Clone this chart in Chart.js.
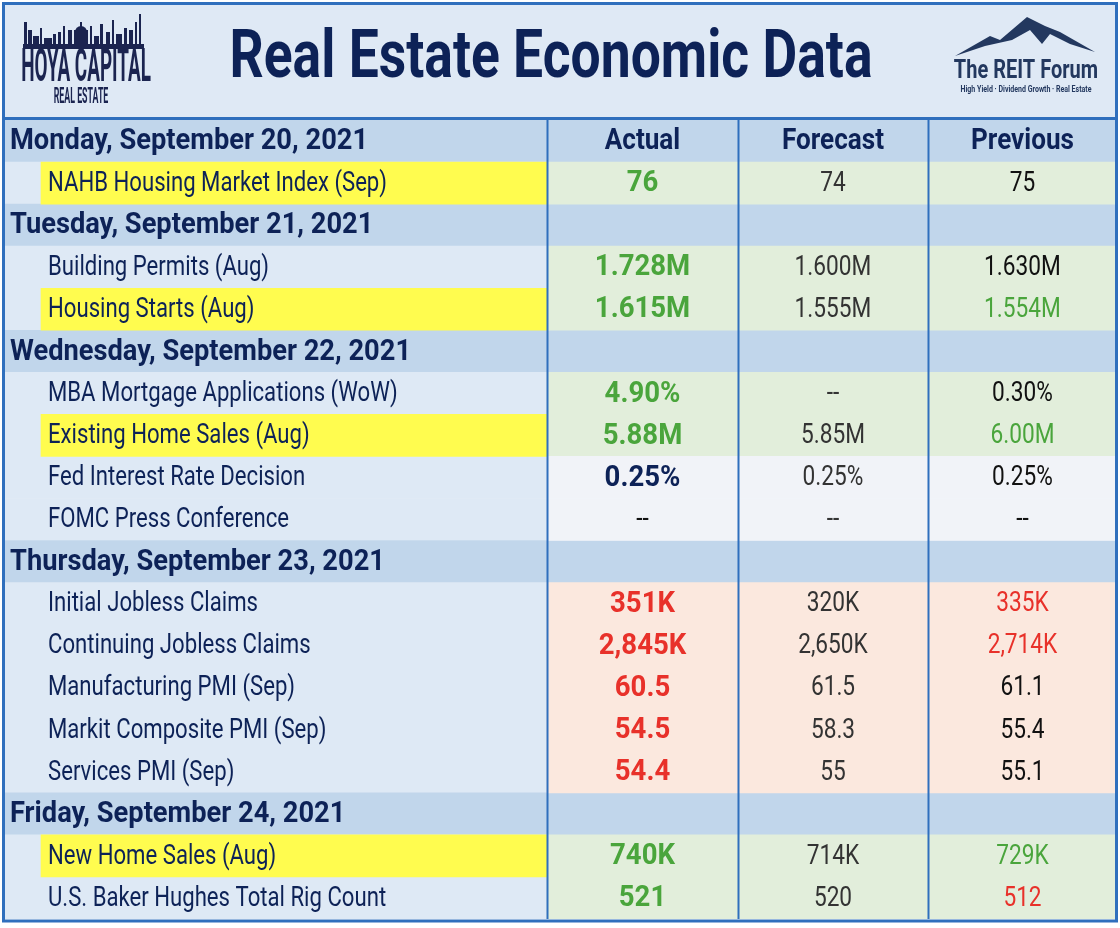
<!DOCTYPE html>
<html>
<head>
<meta charset="utf-8">
<script src="https://cdn.jsdelivr.net/npm/chart.js@4.4.1/dist/chart.umd.min.js"></script>
<style>
  body { margin: 0; background: #ffffff; }
  #wrap { width: 1120px; height: 928px; }
</style>
</head>
<body>
<div id="wrap"><canvas id="myChart" width="1120" height="928"></canvas></div>
<script>
// table data
const title = "Real Estate Economic Data";
const columns = ["Actual", "Forecast", "Previous"];
const rowNames = [
  "Monday, September 20, 2021",
  "NAHB Housing Market Index (Sep)",
  "Tuesday, September 21, 2021",
  "Building Permits (Aug)",
  "Housing Starts (Aug)",
  "Wednesday, September 22, 2021",
  "MBA Mortgage Applications (WoW)",
  "Existing Home Sales (Aug)",
  "Fed Interest Rate Decision",
  "FOMC Press Conference",
  "Thursday, September 23, 2021",
  "Initial Jobless Claims",
  "Continuing Jobless Claims",
  "Manufacturing PMI (Sep)",
  "Markit Composite PMI (Sep)",
  "Services PMI (Sep)",
  "Friday, September 24, 2021",
  "New Home Sales (Aug)",
  "U.S. Baker Hughes Total Rig Count"
];
const isDay = [1,0,1,0,0,1,0,0,0,0,1,0,0,0,0,0,1,0,0];
const highlighted = [0,1,0,0,1,0,0,1,0,0,0,0,0,0,0,0,0,1,0];
const actual   = ["", "76", "", "1.728M", "1.615M", "", "4.90%", "5.88M", "0.25%", "--", "", "351K", "2,845K", "60.5", "54.5", "54.4", "", "740K", "521"];
const forecast = ["", "74", "", "1.600M", "1.555M", "", "--", "5.85M", "0.25%", "--", "", "320K", "2,650K", "61.5", "58.3", "55", "", "714K", "520"];
const previous = ["", "75", "", "1.630M", "1.554M", "", "0.30%", "6.00M", "0.25%", "--", "", "335K", "2,714K", "61.1", "55.4", "55.1", "", "729K", "512"];
// beat / miss marks: g = better, r = worse, n = neutral, k = plain
const actualMark   = ["", "g", "", "g", "g", "", "g", "g", "n", "k", "", "r", "r", "r", "r", "r", "", "g", "g"];
const previousMark = ["", "k", "", "k", "g", "", "k", "g", "k", "k", "", "r", "r", "k", "k", "k", "", "g", "r"];
// row shading of the value cells
const rowTone = ["", "g", "", "g", "g", "", "g", "g", "s", "s", "", "r", "r", "r", "r", "r", "", "g", "g"];

// layout / style
const FONT = "Roboto, 'Liberation Sans', sans-serif";
const colEdges = [0, 543, 734, 924, 1113];
const labelX = 44, dayX = 6, yellowX = 37;
const navy = "#0d2257";
const lineBlue = "#2f6fbd";
const toneBg = { g: "#e2eedb", r: "#fbe8de", s: "#f1f3f8" };
const markColor = { g: "#4aa53c", r: "#e8312a", n: navy, k: "#111111" };

function txt(ctx, s, x, y, size, weight, color, align, sx) {
  ctx.save();
  ctx.font = weight + " " + size + "px " + FONT;
  ctx.fillStyle = color;
  ctx.textBaseline = "middle";
  ctx.textAlign = align;
  ctx.translate(x, y);
  ctx.scale(sx, 1);
  ctx.fillText(s, 0, 0);
  ctx.restore();
}

function drawHoya(ctx) {
  ctx.save();
  ctx.fillStyle = "#1b2450";
  // skyline
  ctx.fillRect(23, 44, 121, 5);
  const towers = [[24,22,3],[28,30,4],[33,36,6],[40,28,2],[44,38,8],[53,34,3],[58,32,3],[63,26,2],[68,30,4],[74,30,14],[90,26,2],[94,36,5],[100,24,3],[106,32,4],[112,20,2],[116,34,6],[124,28,3],[129,30,4],[135,22,2],[139,14,2]];
  towers.forEach(function (t) { ctx.fillRect(t[0], t[1], t[2], 48 - t[1]); });
  ctx.beginPath();
  ctx.arc(81, 32, 6, Math.PI, 0);
  ctx.fill();
  ctx.fillRect(80, 22, 2, 6);
  ctx.restore();
  txt(ctx, "HOYA CAPITAL", 86, 69, 46, "bold", "#1b2450", "center", 0.41);
  txt(ctx, "REAL ESTATE", 81, 97, 22, "bold", "#1b2450", "center", 0.4);
}

function drawReit(ctx) {
  ctx.save();
  ctx.fillStyle = "#23385f";
  ctx.beginPath();
  ctx.moveTo(955, 56);
  ctx.lineTo(990, 36);
  ctx.lineTo(1000, 40);
  ctx.lineTo(1027, 17);
  ctx.lineTo(1045, 26);
  ctx.lineTo(1060, 32);
  ctx.lineTo(1095, 52);
  ctx.lineTo(1070, 44);
  ctx.lineTo(1050, 34);
  ctx.lineTo(1042, 44);
  ctx.lineTo(1030, 30);
  ctx.lineTo(1012, 40);
  ctx.lineTo(985, 46);
  ctx.closePath();
  ctx.fill();
  ctx.restore();
  txt(ctx, "The REIT Forum", 1026, 72, 25, "bold", "#23385f", "center", 0.8);
  txt(ctx, "High Yield \u00b7 Dividend Growth \u00b7 Real Estate", 1026, 90, 9, "bold", "#23385f", "center", 0.78);
}

const tablePlugin = {
  id: "tablePlugin",
  beforeDraw(chart) {
    const ctx = chart.ctx;
    ctx.save();
    ctx.fillStyle = "#ffffff";
    ctx.fillRect(0, 0, chart.width, chart.height);
    ctx.fillStyle = "#dfe9f5";
    ctx.fillRect(3, 3, 1114, 117);
    ctx.restore();
  },
  afterDatasetsDraw(chart) {
    const ctx = chart.ctx;
    const xs = chart.scales.x, ys = chart.scales.y;
    const area = chart.chartArea;
    // column dividers
    ctx.save();
    ctx.strokeStyle = lineBlue;
    ctx.lineWidth = 2;
    for (let i = 1; i < colEdges.length - 1; i++) {
      const x = Math.round(xs.getPixelForValue(colEdges[i])) + 0.5;
      ctx.beginPath();
      ctx.moveTo(x, area.top);
      ctx.lineTo(x, area.bottom);
      ctx.stroke();
    }
    ctx.restore();

    const centers = [];
    for (let c = 0; c < 3; c++) {
      centers.push(xs.getPixelForValue((colEdges[c + 1] + colEdges[c + 2]) / 2));
    }
    rowNames.forEach(function (name, i) {
      const y = ys.getPixelForValue(i) + 1;
      if (isDay[i]) {
        txt(ctx, name, xs.getPixelForValue(dayX), y, 29, "bold", navy, "left", 0.94);
        if (i === 0) {
          columns.forEach(function (c, k) {
            txt(ctx, c, centers[k], y, 29, "bold", navy, "center", 0.9);
          });
        }
        return;
      }
      txt(ctx, name, xs.getPixelForValue(labelX), y, 27, "normal", navy, "left", 0.82);
      const plain = actualMark[i] === "k";
      txt(ctx, actual[i], centers[0], y, plain ? 27 : 29, plain ? "normal" : "bold", markColor[actualMark[i]], "center", plain ? 0.84 : 0.95);
      txt(ctx, forecast[i], centers[1], y, 27, "normal", "#333333", "center", 0.84);
      txt(ctx, previous[i], centers[2], y, 27, "normal", markColor[previousMark[i]], "center", 0.84);
    });

    // frame and header
    ctx.save();
    ctx.strokeStyle = lineBlue;
    ctx.lineWidth = 3;
    ctx.strokeRect(3.5, 3.5, 1113, area.bottom - 1.5);
    ctx.beginPath();
    ctx.moveTo(3, 118.5);
    ctx.lineTo(1117, 118.5);
    ctx.stroke();
    ctx.restore();

    txt(ctx, title, 551, 60, 66, "bold", navy, "center", 0.81);
    drawHoya(ctx);
    drawReit(ctx);
  }
};

const ctx = document.getElementById("myChart").getContext("2d");
const rowIdx = rowNames.map(function (n, i) { return i; });

var myChart = new Chart(ctx, {
  type: "bar",
  data: {
    labels: rowNames,
    datasets: [
      {
        // label column and day bands
        data: rowIdx.map(function (i) { return isDay[i] ? [colEdges[0], colEdges[4]] : [colEdges[0], colEdges[1]]; }),
        backgroundColor: rowIdx.map(function (i) { return isDay[i] ? "#c1d6eb" : "#dee9f5"; }),
        order: 3,
      },
      {
        // value cells
        data: rowIdx.map(function (i) { return isDay[i] ? null : [colEdges[1], colEdges[4]]; }),
        backgroundColor: rowIdx.map(function (i) { return toneBg[rowTone[i]] || "#ffffff"; }),
        order: 2,
      },
      {
        // yellow highlight on key releases
        data: rowIdx.map(function (i) { return highlighted[i] ? [yellowX, colEdges[1]] : null; }),
        backgroundColor: "#fffc4f",
        order: 1,
      },
    ],
  },
  options: {
    indexAxis: "y",
    responsive: false,
    animation: false,
    devicePixelRatio: 1,
    layout: { padding: { left: 4, right: 3, top: 120, bottom: 9 } },
    datasets: {
      bar: {
        grouped: false,
        barPercentage: 1,
        categoryPercentage: 1,
        borderWidth: 0,
        borderSkipped: false,
      },
    },
    plugins: { legend: { display: false }, tooltip: { enabled: false } },
    scales: {
      x: { type: "linear", min: colEdges[0], max: colEdges[4], display: false },
      y: { type: "category", display: false, offset: true },
    },
  },
  plugins: [tablePlugin],
});
</script>
</body>
</html>
